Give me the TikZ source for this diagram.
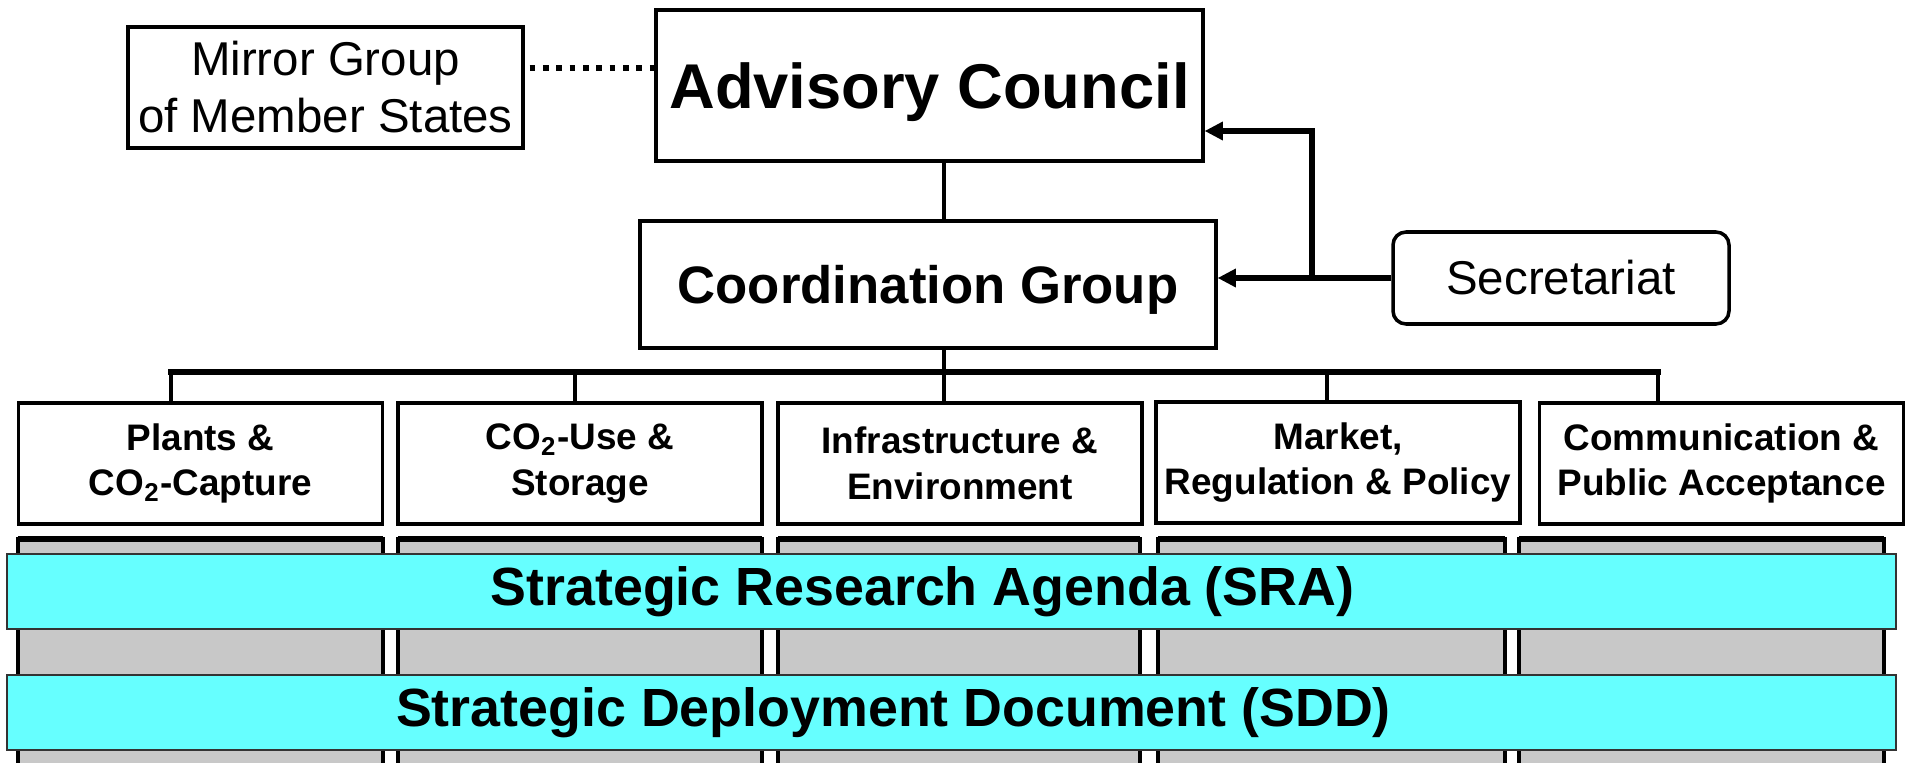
\documentclass[tikz,border=0pt]{standalone}
\usepackage{fontspec}
\setmainfont{Liberation Sans}
\usetikzlibrary{arrows.meta}
\definecolor{bandcyan}{HTML}{66FFFF}
\definecolor{colgray}{HTML}{C8C8C8}
\tikzstyle{plain} = [rectangle, draw=black, line width=0.9pt, fill=white, align=center, inner sep=0pt]
\tikzstyle{council} = [plain, minimum width=5.47cm, minimum height=1.51cm, text depth=0pt, font=\fontsize{18}{21}\selectfont\bfseries]
\tikzstyle{group} = [plain, minimum width=5.76cm, minimum height=1.27cm, text depth=0pt, font=\fontsize{15}{18}\selectfont\bfseries]
\tikzstyle{mirror} = [plain, minimum width=3.95cm, minimum height=1.21cm, font=\fontsize{13.5}{16.2}\selectfont]
\tikzstyle{office} = [plain, rounded corners=0.13cm, minimum width=3.36cm, minimum height=0.92cm, line width=1pt, font=\fontsize{13.5}{16.2}\selectfont]
\tikzstyle{wg} = [plain, minimum width=3.64cm, minimum height=1.21cm, font=\fontsize{10.5}{13}\selectfont\bfseries]
\tikzstyle{band} = [rectangle, draw=black!80, line width=0.7pt, fill=bandcyan, minimum width=18.89cm, minimum height=0.75cm, inner sep=0pt]
\tikzstyle{bandtext} = [inner sep=0pt, font=\fontsize{15.3}{18}\selectfont\bfseries]
\tikzstyle{column} = [draw=black, line width=1pt, fill=colgray]
\tikzstyle{link} = [line width=1.3pt]
\tikzstyle{bus} = [line width=1.7pt, line cap=rect]
\tikzstyle{feed} = [line width=1.6pt, -{Triangle[length=5.2pt,width=5pt]}]
\tikzstyle{dots} = [line width=1.8pt, dash pattern=on 1.6pt off 2.2pt, shorten <=0.05cm]

\begin{document}
\begin{tikzpicture}
    \useasboundingbox (0,0) rectangle (19.11,-7.62);
    \clip (0,0) rectangle (19.11,-7.62);

    % gray columns behind the two documents
    \foreach \l/\r in {0.18/3.83, 3.98/7.62, 7.78/11.40, 11.58/15.05, 15.19/18.84} {
        \draw [column] (\l,-5.39) rectangle (\r,-7.90);
        \draw [line width=1.6pt] (\l,-5.39) -- (\r,-5.39);
    }

    \node (mirror) [mirror] at (3.255,-0.875) {Mirror Group\\of Member States};
    \node (adv) [council] at (9.295,-0.855) {Advisory Council};
    \node (coord) [group] at (9.28,-2.845) {Coordination Group};
    \node (sec) [office] at (15.61,-2.78) {Secretariat};

    \node (wg1) [wg] at (2.005,-4.635) {Plants \&\\CO\textsubscript{2}-Capture};
    \node (wg2) [wg] at (5.80,-4.635) {CO\textsubscript{2}-Use \&\\Storage};
    \node (wg3) [wg] at (9.60,-4.635) {Infrastructure \&\\Environment};
    \node (wg4) [wg] at (13.38,-4.625) {Market,\\Regulation \& Policy};
    \node (wg5) [wg] at (17.215,-4.635) {Communication \&\\Public Acceptance};

    \node (sra) [band] at (9.515,-5.915) {};
    \node (sdd) [band] at (9.515,-7.125) {};
    \node (sratext) [bandtext] at ([xshift=-0.29cm]sra.center) {Strategic Research Agenda (SRA)};
    \node (sddtext) [bandtext] at ([xshift=-0.58cm]sdd.center) {Strategic Deployment Document (SDD)};

    \draw [dots] ([yshift=0.195cm]mirror.east) -- ([yshift=0.195cm]mirror.east -| adv.west);

    \coordinate (b1) at (1.71,-3.72);
    \coordinate (b2) at (5.75,-3.72);
    \coordinate (b3) at (9.44,-3.72);
    \coordinate (b4) at (13.27,-3.72);
    \coordinate (b5) at (16.58,-3.72);
    \coordinate (hub) at (13.12,-2.78);

    \draw [link] (adv.south -| b3) -- (coord.north -| b3);
    \draw [link] (coord.south -| b3) -- (b3);
    \draw [bus] (b1) -- (b5);
    \foreach \i in {1,...,5}
        \draw [link] (b\i) -- (b\i |- wg\i.north);

    \draw [feed] (sec.west) -- (sec.west -| coord.east);
    \draw [feed] (hub) |- ([yshift=-0.455cm]adv.east);
\end{tikzpicture}
\end{document}
